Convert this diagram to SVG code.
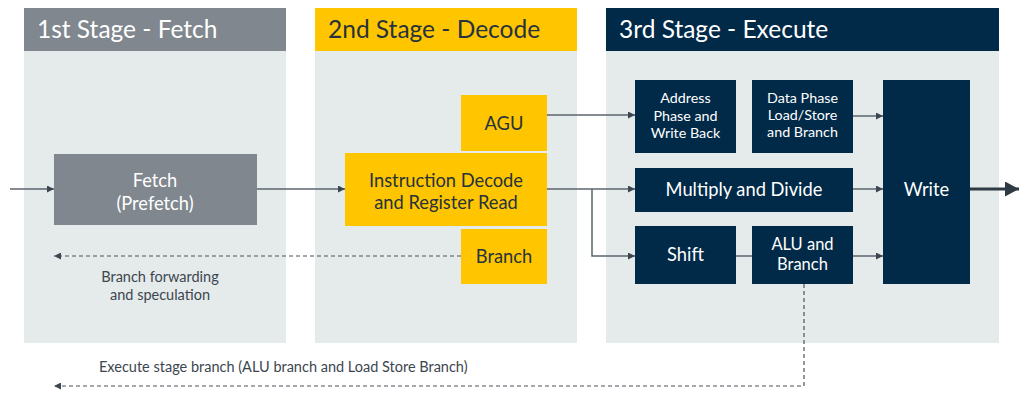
<svg xmlns="http://www.w3.org/2000/svg" width="1029" height="394" viewBox="0 0 1029 394">
<defs>
<style>
text{font-family:Lato,"Open Sans","Liberation Sans",sans-serif;}
.body{fill:#e5eaea;}
.hdr{font-size:24.5px;}
.gray{fill:#80878e;}
.yel{fill:#ffc600;}
.navy{fill:#002a48;}
.wt{fill:#ffffff;text-anchor:middle;}
.dt{fill:#26323d;text-anchor:middle;}
.m{font-size:18.3px;}
.s{font-size:14.3px;}
.lbl{fill:#3c4650;font-size:14.5px;}
.c{stroke:#5b656e;stroke-width:1.5;fill:none;}
.d{stroke:#4a535c;stroke-width:1.2;fill:none;stroke-dasharray:4 3;}
</style>
<marker id="ah" viewBox="0 0 10 10" refX="10" refY="5" markerWidth="7" markerHeight="7" markerUnits="userSpaceOnUse" orient="auto"><path d="M0,0 L10,5 L0,10 z" fill="#3c4650"/></marker>
<marker id="ahb" viewBox="0 0 10 10" refX="10" refY="5" markerWidth="14" markerHeight="15" markerUnits="userSpaceOnUse" orient="auto" preserveAspectRatio="none"><path d="M0,0 L10,5 L0,10 z" fill="#2f3a44"/></marker>
</defs>

<g id="stage1">
<rect class="body" x="24" y="51" width="262" height="292"/>
<rect class="gray" x="24" y="8" width="262" height="43"/>
<text class="hdr" x="37" y="38" fill="#ffffff">1st Stage - Fetch</text>
</g>
<g id="stage2">
<rect class="body" x="315" y="51" width="262" height="292"/>
<rect class="yel" x="315" y="8" width="262" height="43"/>
<text class="hdr" x="328" y="38" fill="#26323d">2nd Stage - Decode</text>
</g>
<g id="stage3">
<rect class="body" x="606" y="51" width="393" height="292"/>
<rect class="navy" x="606" y="8" width="393" height="43"/>
<text class="hdr" x="619" y="38" fill="#ffffff">3rd Stage - Execute</text>
</g>

<g id="connectors">
<line class="c" x1="10" y1="189" x2="54" y2="189" marker-end="url(#ah)"/>
<line class="c" x1="257" y1="189" x2="345" y2="189" marker-end="url(#ah)"/>
<line class="c" x1="547" y1="189" x2="635" y2="189" marker-end="url(#ah)"/>
<polyline class="c" points="592,189 592,256 635,256" marker-end="url(#ah)"/>
<line class="c" x1="547" y1="115" x2="635" y2="115" marker-end="url(#ah)"/>
<line class="c" x1="853" y1="116" x2="883" y2="116" marker-end="url(#ah)"/>
<line class="c" x1="853" y1="189" x2="883" y2="189" marker-end="url(#ah)"/>
<line class="c" x1="853" y1="256" x2="883" y2="256" marker-end="url(#ah)"/>
<line class="c" x1="736" y1="256" x2="752" y2="256"/>
<line x1="970" y1="189" x2="1019" y2="189" stroke="#2f3a44" stroke-width="3" marker-end="url(#ahb)"/>
<line class="d" x1="461" y1="256" x2="54" y2="256" marker-end="url(#ah)"/>
<polyline class="d" points="804,284 804,386 54,386" marker-end="url(#ah)"/>
<text class="lbl" x="160" y="282" text-anchor="middle">Branch forwarding</text>
<text class="lbl" x="160" y="300" text-anchor="middle">and speculation</text>
<text class="lbl" x="99" y="372">Execute stage branch (ALU branch and Load Store Branch)</text>
</g>

<g id="fetch">
<rect class="gray" x="54" y="154" width="203" height="71"/>
<text class="wt m" x="155" y="187">Fetch</text>
<text class="wt m" x="155" y="210">(Prefetch)</text>
</g>
<g id="agu">
<rect class="yel" x="461" y="95" width="86" height="56"/>
<text class="dt m" x="504" y="130">AGU</text>
</g>
<g id="decode">
<rect class="yel" x="345" y="153" width="202" height="73"/>
<text class="dt m" x="446" y="187">Instruction Decode</text>
<text class="dt m" x="446" y="209">and Register Read</text>
</g>
<g id="branch">
<rect class="yel" x="461" y="229" width="86" height="55"/>
<text class="dt m" x="504" y="263">Branch</text>
</g>
<g id="address">
<rect class="navy" x="635" y="80" width="101" height="73"/>
<text class="wt s" x="685.5" y="103">Address</text>
<text class="wt s" x="685.5" y="121">Phase and</text>
<text class="wt s" x="685.5" y="138">Write Back</text>
</g>
<g id="dataphase">
<rect class="navy" x="752" y="80" width="101" height="73"/>
<text class="wt s" x="802.5" y="103">Data Phase</text>
<text class="wt s" x="802.5" y="120">Load/Store</text>
<text class="wt s" x="802.5" y="137">and Branch</text>
</g>
<g id="multiply">
<rect class="navy" x="635" y="168" width="218" height="44"/>
<text class="wt m" x="744" y="196">Multiply and Divide</text>
</g>
<g id="shift">
<rect class="navy" x="635" y="226" width="101" height="58"/>
<text class="wt m" x="685.5" y="261">Shift</text>
</g>
<g id="alu">
<rect class="navy" x="752" y="226" width="101" height="58"/>
<text class="wt" x="802.5" y="250" font-size="16.5">ALU and</text>
<text class="wt" x="802.5" y="270" font-size="16.5">Branch</text>
</g>
<g id="write">
<rect class="navy" x="883" y="80" width="87" height="204"/>
<text class="wt m" x="926.5" y="196">Write</text>
</g>
</svg>
